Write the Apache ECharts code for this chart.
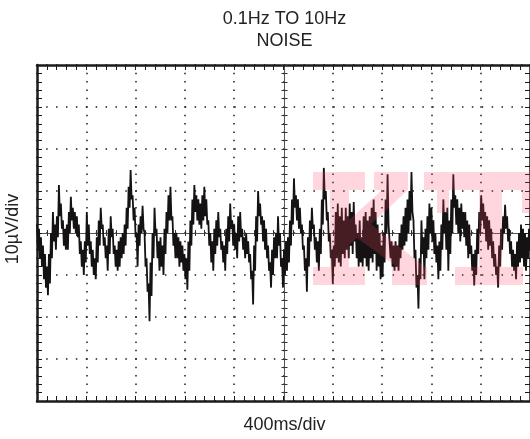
<!DOCTYPE html>
<html><head><meta charset="utf-8">
<script src="https://cdn.jsdelivr.net/npm/echarts@6/dist/echarts.min.js"></script>
<style>html,body{margin:0;padding:0;background:#fff}#c{width:530px;height:439px}</style>
</head><body><div id="c"></div>
<script>
// ---- data ----
const titleLines = ['0.1Hz TO 10Hz', 'NOISE'];
const xAxisName = '400ms/div';
const yAxisName = '10\u00b5V/div';
const timeMin = 0, timeMax = 4000, timeDiv = 400;      // ms
const voltMin = -40, voltMax = 40, voltDiv = 10;       // µV
// noise trace, µV, uniformly sampled over 0..4000 ms (read off the scope trace)
const noiseMicrovolts = [
  2, -4, 1, -6, -1, -8, -3, -11, -5, -13,
  -8, -14.8, -5, -12, 0, -6, 5, -2, 2, -4,
  4, -1, 11.4, 4, 7, 1, 3, -3, 1, -4,
  2, -4, 5, 0, 8.6, 3, 6, 1, 5, 0,
  4, -1, 2, -5, -2, -8, -4, -10, -2, -7,
  5, -3, 2, -5, -2, -8, -4, -10, -6, -11,
  -1, -7, 3, -3, 6, 1, 2, -3, -1, -6,
  -3, -9, 1, -5, 4, -1, 1, -5, -3, -8,
  -4, -9, -2, -8, -1, -6, 0, -5, 2, -3,
  6, 1, 11, 6, 15, 8, 9, 3, 6, -1,
  0, -8, 2, -3, 4, 0, 6.5, 1, 0, -8,
  -6, -14, -12, -21, -7, -15, 0, -6, 6, 0,
  1, -6, -2, -9, -1, -8, -3, -10, 1, -5,
  5, 0, 9, 3, 11, 3, 4, -3, 0, -6,
  0, -6, -1, -8, -2, -7, -3, -9, -5, -11,
  -6, -13.5, -2, -9, 3, -3, 8, 2, 11.4, 5,
  9, 3, 8, 2, 7, 1, 9, 3, 11, 4,
  8, 2, 3, -3, 0, -7, -2, -9, 1, -5,
  3, -3, 5, -1, 1, -4, -2, -7, -3, -9,
  1, -5, 4, -2, 7, 1, 3, -3, 2, -4,
  0, -6, 4, -2, 5, -1, 1, -4, -1, -6,
  0, -5, -2, -7, -5, -11, -9, -17, -3, -9,
  4, -2, 10, 4, 7, 2, 4, -2, 3, -4,
  1, -6, -3, -9, -7, -13, -4, -10, -1, -6,
  0, -6, 4, -3, 0, -8, -6, -13, -4, -10,
  -2, -9, -1, -7, 3, -3, 8, 2, 13, 6,
  9, 3, 8, 1, 6, 0, 2, -4, -3, -9,
  -6, -14, -1, -8, 3, -2, 6, 1, 2, -4,
  -1, -7, -2, -9, 1, -5, 8, 2, 15.5, 8,
  10, 3, 5, -2, 0, -6, -4, -12, -3, -8,
  5, -6, 7, -7, 4, -8, 6, -5, 3, -6,
  6, -4, 4, -6, 7, -3, 5, -5, 7.4, -2,
  2, -6, 0, -8, 3, -7, -1, -8, 4, -6,
  5, -8, 3, -9, 4, -6, 6, -7, 8, -5,
  5, -9, 2, -8, 0, -11, -3, -10.5, 0, -7,
  8, 0, 14, 2, 2, -6, -2, -8, -3, -9,
  -2, -8, -3, -9, 0, -6, 2, -4, 4, -3,
  6, -2, 8, 0, 10, 3, 14.5, 5, 3, -6,
  -4, -13, -10, -18, -6, -11, 3, -5, -1, -11,
  1, -6, 4, -4, 7, 0, 6, -2, 3, -5,
  0, -7, -3, -11, -2, -9, 2, -4, 8, 0,
  5, -4, 6, -9, 3, -5, 8, 0, 14, 6,
  9, 2, 8, 0, 6, -2, 7, 1, 5, -1,
  5, -3, 3, -6, 2, -5, -3, -9, -5, -12.5,
  -4, -10, 1, -5, 5, 0, 9, 3, 7, 1,
  5, -2, 4, -4, 3, -3, 1, -6, -2, -8,
  -5, -10, -8, -13, -3, -8, 1, -4, 4, 0,
  6.7, 1, 4, -2, 1, -5, -2, -8, -4, -9,
  -5, -11, -2, -8, 0, -7, 2, -6, 1, -8,
  0, -9, -1, -6, 1, -4
];
const sampleStepMs = (timeMax - timeMin) / (noiseMicrovolts.length - 1);
const seriesData = noiseMicrovolts.map((v, i) => [timeMin + i * sampleStepMs, v]);

// ---- styling ----
const INK = '#1b1b1b';
const TRACE = '#141213';
const FONT = '18px "Liberation Sans", Arial, sans-serif';
const GRID = { left: 37, right: -2, top: 65, bottom: 38 };
const plotW = 530 - GRID.left - GRID.right;
const plotH = 439 - GRID.top - GRID.bottom;
const cx = GRID.left + plotW / 2;

function borderX(pos) {
  return {
    type: 'value', min: timeMin, max: timeMax, interval: timeDiv, position: pos,
    axisLine: { show: true, onZero: false, lineStyle: { color: INK, width: 2.5 } },
    axisTick: { show: true, inside: true, length: 5, lineStyle: { color: INK, width: 1 } },
    minorTick: { show: true, splitNumber: 5, length: 5, lineStyle: { color: INK, width: 1 } },
    axisLabel: { show: false }, splitLine: { show: false }
  };
}
function borderY(pos) {
  return {
    type: 'value', min: voltMin, max: voltMax, interval: voltDiv, position: pos,
    axisLine: { show: true, onZero: false, lineStyle: { color: INK, width: 2.5 } },
    axisTick: { show: true, inside: true, length: 5, lineStyle: { color: INK, width: 1 } },
    minorTick: { show: true, splitNumber: 5, length: 5, lineStyle: { color: INK, width: 1 } },
    axisLabel: { show: false }, splitLine: { show: false }
  };
}
function centerX(inside) {
  return {
    type: 'value', min: timeMin, max: timeMax, interval: timeDiv, position: 'bottom', offset: -plotH / 2,
    axisLine: { show: true, onZero: false, lineStyle: { color: '#555', width: 1 } },
    axisTick: { show: true, inside: inside, length: 3, lineStyle: { color: '#333', width: 1 } },
    minorTick: { show: true, splitNumber: 5, length: 3, lineStyle: { color: '#333', width: 1 } },
    axisLabel: { show: false }, splitLine: { show: false }
  };
}
function centerY(inside) {
  return {
    type: 'value', min: voltMin, max: voltMax, interval: voltDiv, position: 'left', offset: -plotW / 2,
    axisLine: { show: true, onZero: false, lineStyle: { color: '#555', width: 1 } },
    axisTick: { show: true, inside: inside, length: 3, lineStyle: { color: '#333', width: 1 } },
    minorTick: { show: true, splitNumber: 5, length: 3, lineStyle: { color: '#333', width: 1 } },
    axisLabel: { show: false }, splitLine: { show: false }
  };
}

const xMain = borderX('bottom');
xMain.splitLine = { show: true, lineStyle: { color: INK, width: 1.5, type: [1.5, plotH / 40 - 1.5], dashOffset: 0.75 } };
const yMain = borderY('left');
yMain.splitLine = { show: true, lineStyle: { color: INK, width: 1.5, type: [1.5, plotW / 50 - 1.5], dashOffset: 0.75 } };

// watermark logo (decoration)
const PINK = 'rgba(255,70,100,0.22)';
const wm = [
  { type: 'rect', shape: { x: 313, y: 172, width: 52, height: 18 } },
  { type: 'rect', shape: { x: 330, y: 190, width: 19, height: 77 } },
  { type: 'rect', shape: { x: 313, y: 267, width: 52, height: 18 } },
  { type: 'rect', shape: { x: 374, y: 172, width: 34, height: 18 } },
  { type: 'polygon', shape: { points: [[349, 220], [382, 190], [408, 190], [371, 224], [425, 267], [397, 267], [357, 238], [349, 245]] } },
  { type: 'rect', shape: { x: 392, y: 267, width: 35, height: 18 } },
  { type: 'rect', shape: { x: 424, y: 172, width: 111, height: 18 } },
  { type: 'rect', shape: { x: 437, y: 190, width: 12, height: 23 } },
  { type: 'rect', shape: { x: 522, y: 190, width: 13, height: 23 } },
  { type: 'rect', shape: { x: 479, y: 190, width: 23, height: 77 } },
  { type: 'rect', shape: { x: 455, y: 267, width: 68, height: 18 } }
].map(e => Object.assign(e, { z: 100, silent: true, style: { fill: PINK } }));

const texts = [
  { type: 'text', x: cx, y: 19, style: { text: titleLines[0] } },
  { type: 'text', x: cx, y: 41.5, style: { text: titleLines[1] } },
  { type: 'text', x: cx, y: 425, style: { text: xAxisName } },
  { type: 'text', x: 13, y: 229, rotation: Math.PI / 2, style: { text: yAxisName } }
].map(e => { Object.assign(e.style, { font: FONT, fill: '#222', align: 'center', verticalAlign: 'middle' }); e.z = 50; return e; });

const chart = echarts.init(document.getElementById('c'), null, { renderer: 'canvas' });
chart.setOption({
  animation: false,
  backgroundColor: '#fff',
  grid: Object.assign({ containLabel: false }, GRID),
  xAxis: [xMain, borderX('top'), centerX(true), centerX(false)],
  yAxis: [yMain, borderY('right'), centerY(true), centerY(false)],
  series: [{
    type: 'line', xAxisIndex: 0, yAxisIndex: 0, data: seriesData,
    showSymbol: false, symbol: 'none', z: 5,
    lineStyle: { color: TRACE, width: 1.8, join: 'miter', miterLimit: 3 }
  }],
  graphic: wm.concat(texts)
});
</script></body></html>
